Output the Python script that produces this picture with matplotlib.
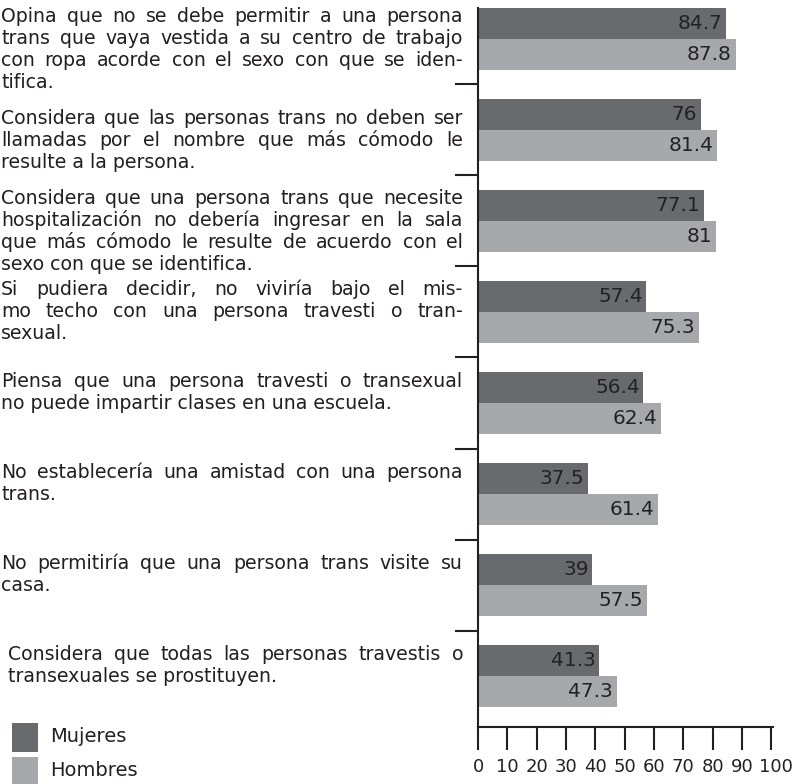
import matplotlib
matplotlib.use("Agg")
import matplotlib.pyplot as plt
import matplotlib.transforms as mtransforms
from matplotlib.patches import Rectangle
import numpy as np

# statements (top to bottom), with the original line breaks
categories = [
    "Opina que no se debe permitir a una persona\ntrans que vaya vestida a su centro de trabajo\ncon ropa acorde con el sexo con que se iden-\ntifica.",
    "Considera que las personas trans no deben ser\nllamadas por el nombre que más cómodo le\nresulte a la persona.",
    "Considera que una persona trans que necesite\nhospitalización no debería ingresar en la sala\nque más cómodo le resulte de acuerdo con el\nsexo con que se identifica.",
    "Si pudiera decidir, no viviría bajo el mis-\nmo techo con una persona travesti o tran-\nsexual.",
    "Piensa que una persona travesti o transexual\nno puede impartir clases en una escuela.",
    "No establecería una amistad con una persona\ntrans.",
    "No permitiría que una persona trans visite su\ncasa.",
    "Considera que todas las personas travestis o\ntransexuales se prostituyen.",
]
mujeres = [84.7, 76, 77.1, 57.4, 56.4, 37.5, 39, 41.3]
hombres = [87.8, 81.4, 81, 75.3, 62.4, 61.4, 57.5, 47.3]
series_names = ["Mujeres", "Hombres"]
x_ticks = list(range(0, 101, 10))

DARK = "#696a6e"
LIGHT = "#a7a8ac"
INK = "#231f20"
FS_LABEL = 13.6
COL_RIGHT = 463  # px, right edge of the justified text column
LINE_H = 22      # px between text lines

fig = plt.figure(figsize=(8.0, 7.84), dpi=100)
ax = fig.add_axes([0.5975, 0.0727, 0.3688, 0.9171])

y = np.arange(len(categories))
h = 0.34
ax.barh(y - h / 2, mujeres, height=h, color=DARK, linewidth=0)
ax.barh(y + h / 2, hombres, height=h, color=LIGHT, linewidth=0)

for yi, v in zip(y - h / 2, mujeres):
    ax.text(v - 1.2, yi, f"{v:g}", ha="right", va="center", fontsize=14.5, color="#222222")
for yi, v in zip(y + h / 2, hombres):
    ax.text(v - 1.2, yi, f"{v:g}", ha="right", va="center", fontsize=14.5, color="#222222")

ax.set_xlim(0, 100.6)
ax.set_ylim(len(categories) - 0.44, -0.34)

for s in ["top", "right"]:
    ax.spines[s].set_visible(False)
for s in ["left", "bottom"]:
    ax.spines[s].set_color(INK)
    ax.spines[s].set_linewidth(1.5)

ax.set_xticks(x_ticks)
ax.set_xticklabels([str(t) for t in x_ticks])
ax.tick_params(axis="x", direction="out", length=16.5, width=1.5, color=INK,
               labelsize=13, labelcolor="#222222", pad=6)
# the source nudges "100" a little to the right
last = ax.get_xticklabels()[-1]
last.set_transform(last.get_transform()
                   + mtransforms.ScaledTranslation(5 / fig.dpi, 0, fig.dpi_scale_trans))
ax.set_yticks([])
ax.set_yticks(y[:-1] + 0.5, minor=True)
ax.tick_params(axis="y", which="minor", direction="out", length=16.5, width=1.5, color=INK)

# statement texts on the left, justified like the source
renderer = fig.canvas.get_renderer()


def text_width(s):
    t = fig.text(0, 0, s, fontsize=FS_LABEL)
    w = t.get_window_extent(renderer).width
    t.remove()
    return w


base = mtransforms.blended_transform_factory(fig.transFigure, ax.transData)
indent = [1] * 7 + [8]
extra_dy = [0, 11, 0, 0, 1, 0, 0, 0]
for i, lab in enumerate(categories):
    lines = lab.split("\n")
    for j, line in enumerate(lines):
        dy = -(29 + extra_dy[i] + j * LINE_H) / fig.dpi
        words = line.split(" ")
        if j < len(lines) - 1 and len(words) > 1:
            widths = [text_width(w) for w in words]
            gap = (COL_RIGHT - indent[i] - sum(widths)) / (len(words) - 1)
            xpos = indent[i]
            for w, wd in zip(words, widths):
                tr = base + mtransforms.ScaledTranslation(xpos / fig.dpi, dy, fig.dpi_scale_trans)
                fig.text(0, i - 0.5, w, transform=tr, ha="left", va="baseline",
                         fontsize=FS_LABEL, color=INK)
                xpos += wd + gap
        else:
            tr = base + mtransforms.ScaledTranslation(indent[i] / fig.dpi, dy,
                                                      fig.dpi_scale_trans)
            fig.text(0, i - 0.5, line, transform=tr, ha="left", va="baseline",
                     fontsize=FS_LABEL, color=INK)

# legend
for k, (name, col) in enumerate(zip(series_names, [DARK, LIGHT])):
    top = 723 + k * 34
    fig.patches.append(Rectangle((12 / 800, 1 - (top + 29) / 784), 26 / 800, 29 / 784,
                                 transform=fig.transFigure, facecolor=col, edgecolor="none"))
    fig.text(50 / 800, 1 - (top + 14) / 784, name, ha="left", va="center",
             fontsize=14, color=INK)

fig.savefig("out.png", dpi=100)
